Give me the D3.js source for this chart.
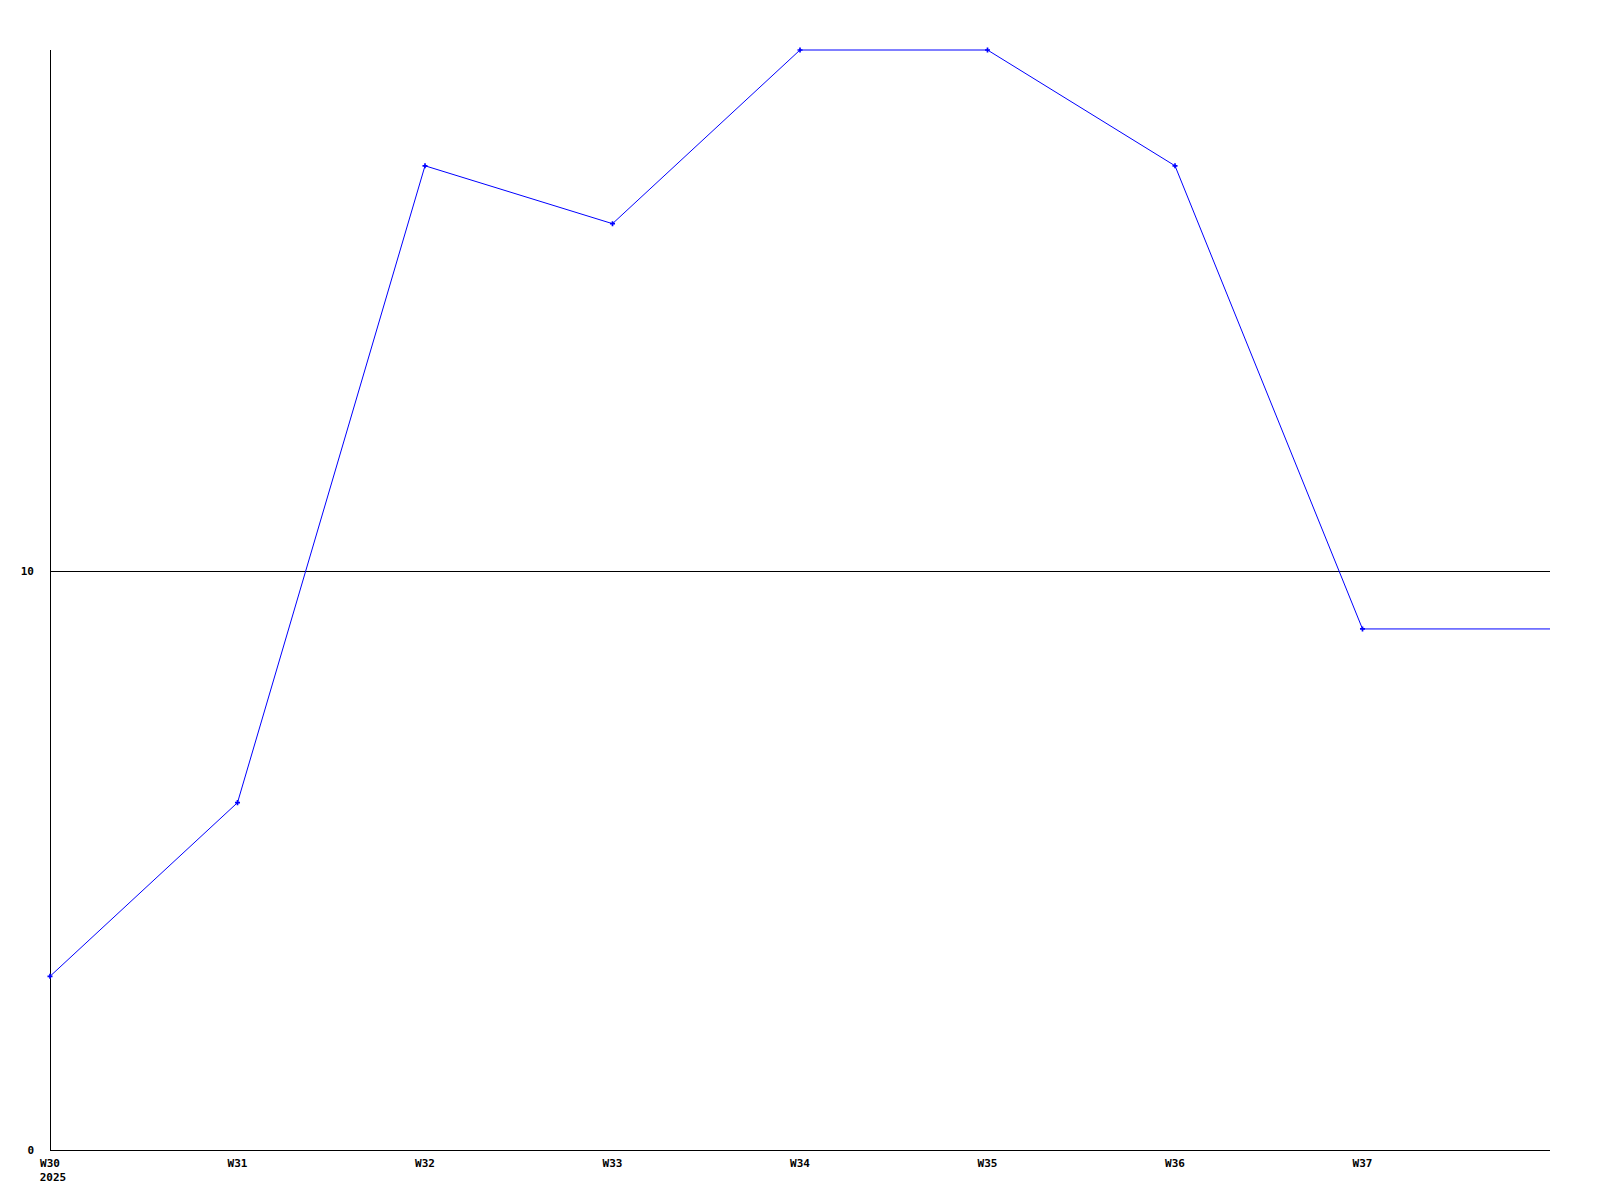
<!DOCTYPE html>
<html>
<head>
<meta charset="utf-8">
<script src="https://cdn.jsdelivr.net/npm/d3@7"></script>
<style>
  body { margin: 0; background: #fff; }
  text { font-family: "DejaVu Sans Mono", monospace; font-weight: bold; font-size: 11px; fill: #000; }
</style>
</head>
<body>
<div id="chart"></div>
<script>
  const width = 1600,
    height = 1200;

  // data
  const weeks = ["W30", "W31", "W32", "W33", "W34", "W35", "W36", "W37", "W38"];
  const values = [3, 6, 17, 16, 19, 19, 17, 9, 9];
  const markerWeeks = ["W30", "W31", "W32", "W33", "W34", "W35", "W36", "W37"];
  const yTicks = [0, 10];
  const yearLabel = "2025";

  const svg = d3
    .select("#chart")
    .append("svg")
    .attr("width", width)
    .attr("height", height);

  const x = d3.scalePoint().domain(weeks).range([50, 1550]);
  const y = d3.scaleLinear().domain([0, 19]).range([1150, 50]);

  // horizontal grid line(s)
  svg
    .selectAll(".grid")
    .data(yTicks.filter((d) => d > 0))
    .enter()
    .append("line")
    .attr("x1", 50)
    .attr("x2", 1550)
    .attr("y1", (d) => Math.round(y(d)) + 0.5)
    .attr("y2", (d) => Math.round(y(d)) + 0.5)
    .attr("stroke", "#000")
    .attr("stroke-width", 1);

  // axes
  svg
    .append("line")
    .attr("x1", 50.5)
    .attr("x2", 50.5)
    .attr("y1", 50)
    .attr("y2", 1150)
    .attr("stroke", "#000");
  svg
    .append("line")
    .attr("x1", 50)
    .attr("x2", 1550)
    .attr("y1", 1150.5)
    .attr("y2", 1150.5)
    .attr("stroke", "#000");

  // y labels
  svg
    .selectAll(".ylab")
    .data(yTicks)
    .enter()
    .append("text")
    .attr("x", 34)
    .attr("y", (d) => y(d) + 4)
    .attr("text-anchor", "end")
    .text((d) => d);

  // x labels
  svg
    .selectAll(".xlab")
    .data(markerWeeks)
    .enter()
    .append("text")
    .attr("x", (d) => x(d))
    .attr("y", 1167)
    .attr("text-anchor", "middle")
    .text((d) => d);

  svg
    .append("text")
    .attr("x", x(weeks[0]) + 3)
    .attr("y", 1181)
    .attr("text-anchor", "middle")
    .text(yearLabel);

  // series line
  const line = d3
    .line()
    .x((d, i) => x(weeks[i]))
    .y((d) => y(d));

  svg
    .append("path")
    .datum(values)
    .attr("d", line)
    .attr("fill", "none")
    .attr("stroke", "#0000ff")
    .attr("stroke-width", 1);

  // point markers
  svg
    .selectAll(".pt")
    .data(markerWeeks)
    .enter()
    .append("path")
    .attr("d", d3.symbol().type(d3.symbolCross).size(14))
    .attr("transform", (d, i) => `translate(${x(d)},${y(values[i])})`)
    .attr("fill", "#0000ff");
</script>
</body>
</html>
